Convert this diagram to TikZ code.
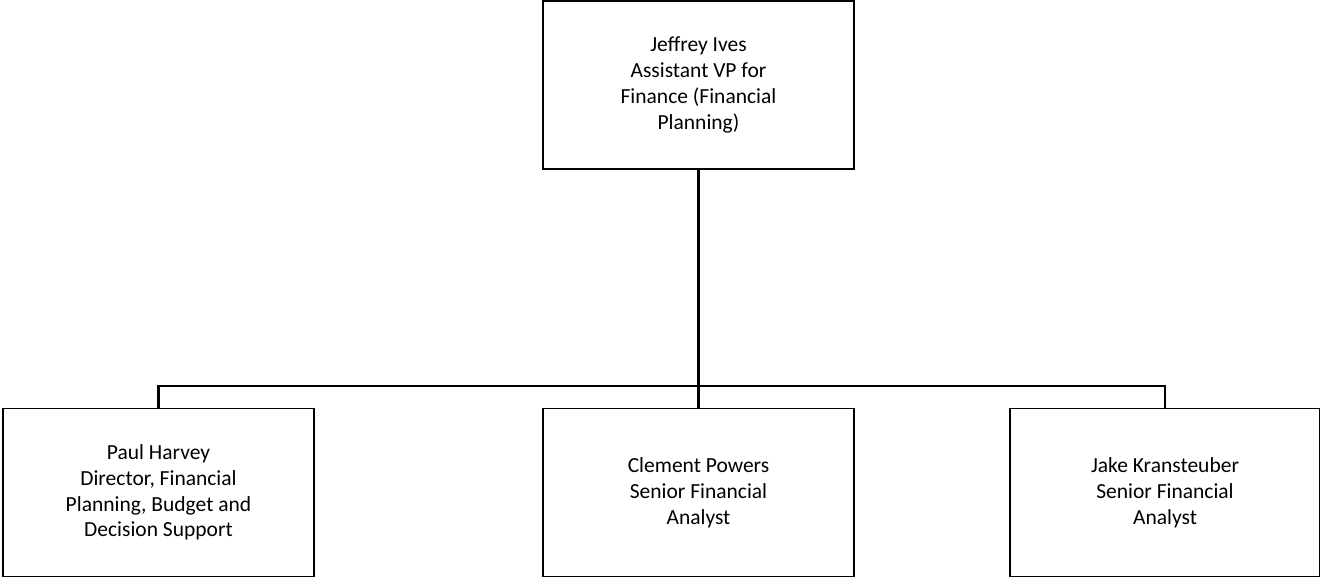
\documentclass[tikz,border=0pt]{standalone}
\usepackage{fontspec}
\setmainfont{Carlito}
\begin{document}
\begin{tikzpicture}[x=1pt,y=-1pt]
        \tikzstyle{person}=[rectangle, draw, line width=1.5pt, minimum width=311pt, minimum height=168pt, inner sep=0pt, align=center, font=\fontsize{21.5}{25.8}\selectfont]
        \tikzstyle{link}=[line width=2.2pt]

        \useasboundingbox (0,0) rectangle (1320,577);

        \node[person] (ives) at (698.5,85) {Jeffrey Ives\\Assistant VP for\\Finance (Financial\\Planning)};
        \node[person] (harvey) at (158.5,492.5) {Paul Harvey\\Director, Financial\\Planning, Budget and\\Decision Support};
        \node[person] (powers) at (698.5,492.5) {Clement Powers\\Senior Financial\\Analyst};
        \node[person, minimum width=310pt] (kran) at (1165,492.5) {Jake Kransteuber\\Senior Financial\\Analyst};

        \coordinate (bus) at (698.5,386);

        \draw[link] (ives.south) -- (powers.north);
        \draw[link] (bus) -| (harvey.north);
        \draw[link] (bus) -| (kran.north);
    \end{tikzpicture}
\end{document}
